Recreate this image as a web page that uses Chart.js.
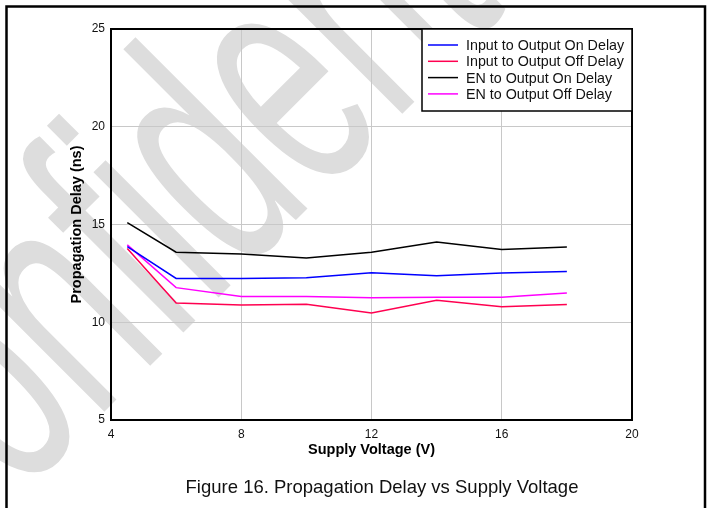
<!DOCTYPE html>
<html>
<head>
<meta charset="utf-8">
<title>Propagation Delay vs Supply Voltage</title>
<script src="https://cdn.jsdelivr.net/npm/chart.js@4/dist/chart.umd.min.js"></script>
<style>
    html, body { margin: 0; padding: 0; background: #fff; }
    #wrap { width: 711px; height: 508px; position: relative; }
</style>
</head>
<body>
<div id="wrap"><canvas id="delayChart" width="711" height="508"></canvas></div>
<script>
// Chart data
const voltage = [4.5, 6, 8, 10, 12, 14, 16, 18];
const inOnDelay = [13.87, 12.24, 12.24, 12.28, 12.53, 12.38, 12.52, 12.6];
const inOffDelay = [13.77, 10.99, 10.88, 10.92, 10.47, 11.13, 10.79, 10.91];
const enOnDelay = [15.1, 13.58, 13.49, 13.29, 13.58, 14.1, 13.72, 13.85];
const enOffDelay = [13.96, 11.77, 11.32, 11.32, 11.25, 11.28, 11.28, 11.5];

const seriesNames = ['Input to Output On Delay', 'Input to Output Off Delay', 'EN to Output On Delay', 'EN to Output Off Delay'];
const seriesColors = ['#0000ff', '#ff0050', '#000000', '#ff00ff'];
const xTicks = [4, 8, 12, 16, 20];
const yTicks = [5, 10, 15, 20, 25];

const captionText = 'Figure 16. Propagation Delay vs Supply Voltage';
const watermarkText = 'Confidential';

const FONT = 'Arial, "Liberation Sans", sans-serif';

function toPoints(values) {
    return voltage.map((v, i) => ({ x: v, y: values[i] }));
}

// Page frame + watermark behind the chart
const backdropPlugin = {
    id: 'backdrop',
    beforeDraw(chart) {
        const ctx = chart.ctx;
        ctx.save();
        ctx.fillStyle = '#fff';
        ctx.fillRect(0, 0, chart.width, chart.height);

        // watermark
        ctx.translate(282, 234);
        ctx.rotate(-Math.PI / 4);
        ctx.scale(0.58, 1);
        ctx.fillStyle = '#dddddd';
        ctx.font = '335px ' + FONT;
        ctx.textAlign = 'center';
        ctx.textBaseline = 'alphabetic';
        ctx.fillText(watermarkText, 0, 0);
        ctx.restore();
    },
    afterDraw(chart) {
        const ctx = chart.ctx;
        const area = chart.chartArea;
        ctx.save();

        // plot frame
        ctx.strokeStyle = '#000';
        ctx.lineWidth = 2;
        ctx.strokeRect(area.left, area.top, area.right - area.left, area.bottom - area.top);

        // outer page frame
        ctx.lineWidth = 2.5;
        ctx.strokeRect(6.5, 6.5, 698.5, 530);

        // caption
        ctx.fillStyle = '#111';
        ctx.font = '18.5px ' + FONT;
        ctx.textAlign = 'center';
        ctx.textBaseline = 'alphabetic';
        ctx.fillText(captionText, 382, 493);
        ctx.restore();
    }
};

// Legend box in the top right corner of the plot
const legendBoxPlugin = {
    id: 'legendBox',
    afterDraw(chart) {
        const ctx = chart.ctx;
        const area = chart.chartArea;
        const w = 210, h = 82;
        const x0 = area.right - w, y0 = area.top;
        ctx.save();
        ctx.fillStyle = '#fff';
        ctx.fillRect(x0, y0, w, h);
        ctx.strokeStyle = '#000';
        ctx.lineWidth = 1.5;
        ctx.strokeRect(x0, y0, w, h);

        ctx.font = '14.3px ' + FONT;
        ctx.textAlign = 'left';
        ctx.textBaseline = 'middle';
        chart.data.datasets.forEach((ds, i) => {
            const y = y0 + 16 + i * 16.3;
            ctx.strokeStyle = ds.borderColor;
            ctx.lineWidth = 1.5;
            ctx.beginPath();
            ctx.moveTo(x0 + 6, y);
            ctx.lineTo(x0 + 36, y);
            ctx.stroke();
            ctx.fillStyle = '#111';
            ctx.fillText(ds.label, x0 + 44, y + 1);
        });
        ctx.restore();
    }
};

const datasets = [inOnDelay, inOffDelay, enOnDelay, enOffDelay].map((values, i) => ({
    label: seriesNames[i],
    data: toPoints(values),
    borderColor: seriesColors[i],
    backgroundColor: seriesColors[i],
    borderWidth: 1.5,
    pointRadius: 0,
    tension: 0,
    fill: false
}));

new Chart(document.getElementById('delayChart'), {
    type: 'line',
    data: { datasets: datasets },
    options: {
        responsive: false,
        animation: false,
        layout: { padding: { top: 29, right: 79, left: 0, bottom: 0 } },
        plugins: {
            legend: { display: false },
            tooltip: { enabled: false }
        },
        scales: {
            x: {
                type: 'linear',
                min: 4,
                max: 20,
                afterBuildTicks(scale) { scale.ticks = xTicks.map(v => ({ value: v })); },
                afterFit(scale) { scale.height = 88; },
                ticks: { color: '#111', padding: 7, font: { family: FONT, size: 12 } },
                grid: { color: '#c8c8c8', lineWidth: 1, drawTicks: false },
                border: { display: false },
                title: {
                    display: true,
                    text: 'Supply Voltage (V)',
                    color: '#000',
                    font: { family: FONT, size: 14.5, weight: 'bold' },
                    padding: { top: 0, bottom: 49 }
                }
            },
            y: {
                min: 5,
                max: 25,
                afterBuildTicks(scale) { scale.ticks = yTicks.map(v => ({ value: v })); },
                afterFit(scale) { scale.width = 111; },
                ticks: { color: '#111', padding: 6, font: { family: FONT, size: 12 } },
                grid: { color: '#c8c8c8', lineWidth: 1, drawTicks: false },
                border: { display: false },
                title: {
                    display: true,
                    text: 'Propagation Delay (ns)',
                    color: '#000',
                    font: { family: FONT, size: 14.5, weight: 'bold' },
                    padding: { top: 68, bottom: 0 }
                }
            }
        }
    },
    plugins: [backdropPlugin, legendBoxPlugin]
});
</script>
</body>
</html>
